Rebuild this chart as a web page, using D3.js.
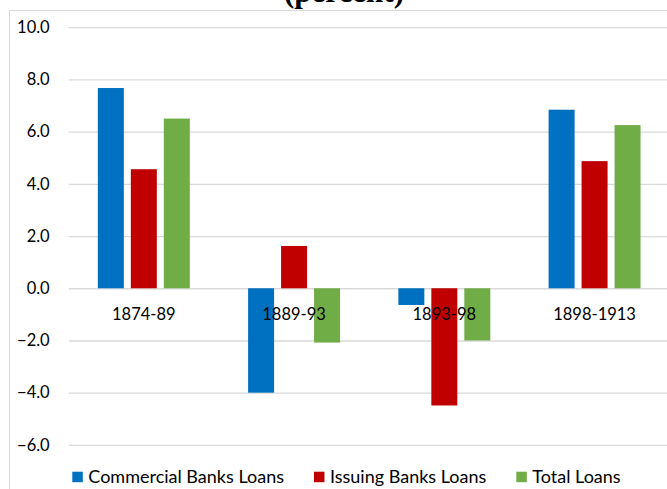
<!DOCTYPE html>
<html><head><meta charset="utf-8">
<script src="https://cdn.jsdelivr.net/npm/d3@7"></script>
<style>
html,body{margin:0;padding:0;background:#fff;overflow:hidden;}
svg{display:block;}
text{font-family:Lato,"Open Sans",sans-serif;}
</style></head>
<body>
<svg id="chart" width="667" height="489"></svg>
<script>
const categories = ["1874-89", "1889-93", "1893-98", "1898-1913"];
const seriesNames = ["Commercial Banks Loans", "Issuing Banks Loans", "Total Loans"];
const commercialBanksLoans = [7.67, -4.0, -0.64, 6.84];
const issuingBanksLoans = [4.56, 1.62, -4.49, 4.87];
const totalLoans = [6.50, -2.08, -2.0, 6.25];
const yTicks = [-6, -4, -2, 0, 2, 4, 6, 8, 10];
const colors = ["#0070C0", "#C00000", "#70AD47"];
const titleText = "(percent)";

const seriesValues = [commercialBanksLoans, issuingBanksLoans, totalLoans];
const rows = categories.map((c, i) => ({cat: c, vals: seriesNames.map((s, j) => ({s, v: seriesValues[j][i]}))}));

const svg = d3.select("#chart");
const plot = {left: 68.7, right: 669.7, top: 27.2, bottom: 444.9};

// chart border (cropped)
svg.append("rect").attr("x", 9.5).attr("y", 10.5).attr("width", 700).attr("height", 500)
  .attr("fill", "none").attr("stroke", "#d9d9d9").attr("stroke-width", 1);

// title (cropped at top)
svg.append("text").attr("x", 344).attr("y", 2).attr("text-anchor", "middle")
  .style("font-family", "'Liberation Serif','Times New Roman',serif")
  .style("font-weight", "bold").style("font-size", "31px").attr("fill", "#000").text(titleText);

const y = d3.scaleLinear().domain([-6, 10]).range([plot.bottom, plot.top]);
const x0 = d3.scaleBand().domain(categories).range([plot.left, plot.right])
  .paddingInner(0.388).paddingOuter(0.194);
const x1 = d3.scaleBand().domain(seriesNames).range([0, x0.bandwidth()]).paddingInner(0.212);
const color = d3.scaleOrdinal().domain(seriesNames).range(colors);

// gridlines + y labels via axis
const yAxis = d3.axisLeft(y).tickValues(yTicks).tickFormat(d3.format(".1f"))
  .tickSize(-(plot.right - plot.left)).tickPadding(19);
const gy = svg.append("g").attr("transform", `translate(${plot.left},0)`).call(yAxis);
gy.select(".domain").remove();
gy.selectAll(".tick line").attr("stroke", "#d9d9d9").attr("stroke-width", 1.3);
gy.selectAll(".tick text").attr("fill", "#000").style("font-size", "16.5px")
  .style("font-family", "Lato,'Open Sans',sans-serif");

// bars
const g = svg.append("g");
g.selectAll("g.grp").data(rows).join("g").attr("class", "grp")
  .attr("transform", d => `translate(${x0(d.cat)},0)`)
  .selectAll("rect").data(d => d.vals).join("rect")
  .attr("x", d => x1(d.s)).attr("width", x1.bandwidth())
  .attr("y", d => y(Math.max(0, d.v)))
  .attr("height", d => Math.abs(y(d.v) - y(0)))
  .attr("fill", d => color(d.s));

// category labels
const xAxis = d3.axisBottom(x0).tickSize(0).tickPadding(20);
const gx = svg.append("g").attr("transform", `translate(0,${y(0)})`).call(xAxis);
gx.select(".domain").remove();
gx.selectAll(".tick text").attr("fill", "#000").style("font-size", "16.5px")
  .style("font-family", "Lato,'Open Sans',sans-serif");

// legend
const leg = svg.append("g").attr("transform", "translate(72.3,471.7)");
let lx = 0;
seriesNames.forEach((s, i) => {
  const it = leg.append("g").attr("transform", `translate(${lx},0)`);
  it.append("rect").attr("width", 10.5).attr("height", 10.5).attr("fill", colors[i]);
  const t = it.append("text").attr("x", 16).attr("y", 11).attr("fill", "#000")
    .style("font-size", "18px").text(s);
  lx += 16 + t.node().getComputedTextLength() + 30;
});
</script>
</body></html>
